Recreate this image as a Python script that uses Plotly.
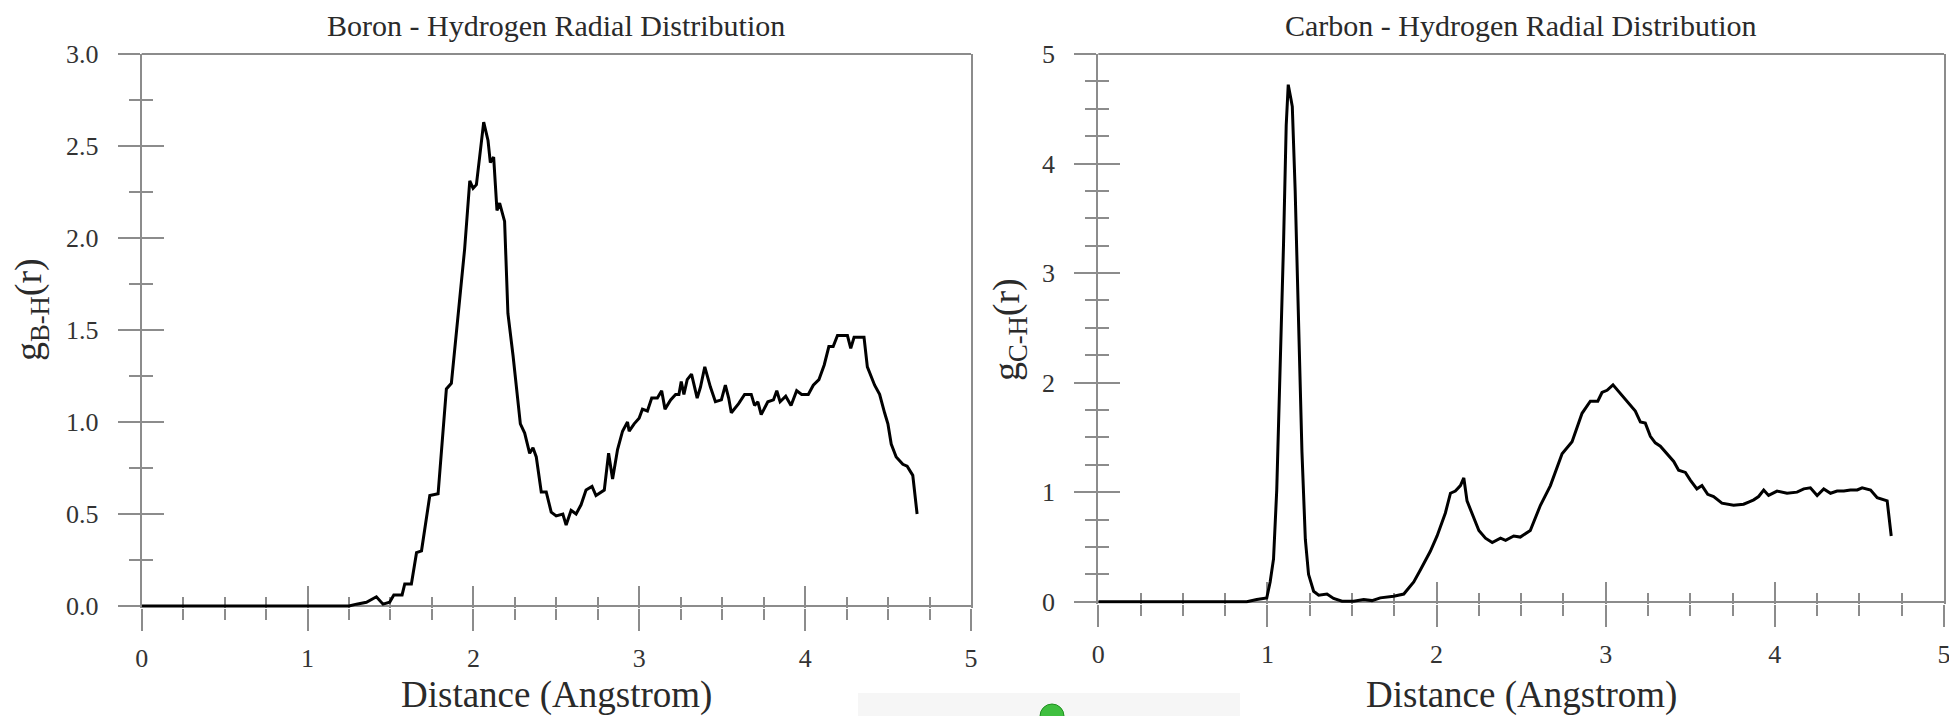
import plotly.graph_objects as go

W, H = 1949, 716

# ---------------- data ----------------
bh_r = [0.0, 1.25, 1.295, 1.355, 1.415, 1.455, 1.495, 1.52, 1.57, 1.586, 1.626, 1.657, 1.687,
        1.737, 1.787, 1.837, 1.867, 1.907, 1.917, 1.947, 1.978, 1.998, 2.018, 2.062, 2.088,
        2.102, 2.122, 2.142, 2.158, 2.188, 2.208, 2.239, 2.283, 2.309, 2.339, 2.359, 2.379,
        2.409, 2.439, 2.469, 2.499, 2.539, 2.559, 2.589, 2.619, 2.649, 2.679, 2.715, 2.739,
        2.769, 2.789, 2.815, 2.839, 2.869, 2.899, 2.929, 2.939, 2.969, 2.999, 3.019, 3.049,
        3.075, 3.109, 3.135, 3.155, 3.189, 3.219, 3.239, 3.253, 3.269, 3.289, 3.315, 3.349,
        3.369, 3.395, 3.429, 3.459, 3.495, 3.519, 3.539, 3.555, 3.599, 3.635, 3.675, 3.695,
        3.715, 3.735, 3.775, 3.809, 3.829, 3.849, 3.883, 3.915, 3.949, 3.979, 4.019, 4.049,
        4.083, 4.115, 4.143, 4.169, 4.195, 4.229, 4.255, 4.275, 4.295, 4.355, 4.375, 4.419,
        4.449, 4.479, 4.499, 4.519, 4.549, 4.589, 4.615, 4.649, 4.675]
bh_g = [0.0, 0.0, 0.01, 0.02, 0.05, 0.01, 0.02, 0.06, 0.06, 0.12, 0.12, 0.29, 0.30,
        0.60, 0.61, 1.18, 1.21, 1.59, 1.65, 1.94, 2.31, 2.27, 2.29, 2.63, 2.53,
        2.41, 2.44, 2.15, 2.19, 2.09, 1.59, 1.36, 0.99, 0.94, 0.83, 0.86, 0.81,
        0.62, 0.62, 0.51, 0.49, 0.50, 0.44, 0.52, 0.50, 0.55, 0.63, 0.65, 0.60,
        0.62, 0.63, 0.83, 0.69, 0.85, 0.95, 1.00, 0.95, 0.99, 1.02, 1.07, 1.06,
        1.13, 1.13, 1.17, 1.07, 1.12, 1.15, 1.15, 1.22, 1.15, 1.23, 1.26, 1.13,
        1.19, 1.30, 1.19, 1.11, 1.12, 1.20, 1.13, 1.05, 1.10, 1.15, 1.15, 1.09,
        1.11, 1.04, 1.11, 1.12, 1.17, 1.11, 1.14, 1.09, 1.17, 1.15, 1.15, 1.20,
        1.23, 1.31, 1.41, 1.41, 1.47, 1.47, 1.47, 1.40, 1.46, 1.46, 1.30, 1.20,
        1.15, 1.05, 0.99, 0.88, 0.81, 0.77, 0.76, 0.71, 0.50]

ch_r = [0.0, 0.878, 0.937, 0.996, 1.016, 1.036, 1.055, 1.075, 1.095, 1.111, 1.123, 1.139,
        1.147, 1.164, 1.184, 1.204, 1.224, 1.243, 1.273, 1.303, 1.352, 1.391, 1.441, 1.510,
        1.569, 1.618, 1.667, 1.746, 1.806, 1.865, 1.904, 1.963, 2.003, 2.052, 2.082, 2.111,
        2.141, 2.161, 2.180, 2.210, 2.250, 2.289, 2.329, 2.378, 2.408, 2.456, 2.495, 2.554,
        2.614, 2.673, 2.742, 2.801, 2.860, 2.909, 2.953, 2.978, 3.008, 3.043, 3.087, 3.136,
        3.175, 3.205, 3.234, 3.264, 3.293, 3.323, 3.362, 3.402, 3.431, 3.471, 3.500, 3.539,
        3.569, 3.603, 3.638, 3.687, 3.756, 3.815, 3.845, 3.875, 3.904, 3.934, 3.963, 4.013,
        4.072, 4.131, 4.171, 4.210, 4.250, 4.289, 4.329, 4.368, 4.408, 4.447, 4.487, 4.516,
        4.566, 4.605, 4.664, 4.688]
ch_g = [0.0, 0.0, 0.02, 0.035, 0.18, 0.39, 1.02, 2.07, 3.26, 4.35, 4.72, 4.59,
        4.52, 3.75, 2.56, 1.37, 0.57, 0.25, 0.095, 0.06, 0.07, 0.03, 0.005, 0.005,
        0.02, 0.01, 0.035, 0.05, 0.07, 0.18, 0.29, 0.46, 0.60, 0.81, 0.99, 1.01,
        1.06, 1.13, 0.92, 0.81, 0.65, 0.58, 0.54, 0.58, 0.56, 0.60, 0.59, 0.65,
        0.88, 1.06, 1.35, 1.46, 1.72, 1.83, 1.83, 1.91, 1.93, 1.98, 1.90, 1.81,
        1.74, 1.64, 1.63, 1.51, 1.45, 1.42, 1.35, 1.28, 1.20, 1.18, 1.11, 1.03,
        1.06, 0.98, 0.96, 0.90, 0.88, 0.89, 0.91, 0.93, 0.96, 1.02, 0.97, 1.01,
        0.99, 1.00, 1.03, 1.04, 0.97, 1.03, 0.99, 1.01, 1.01, 1.02, 1.02, 1.04,
        1.02, 0.95, 0.92, 0.60]

titles = ["Boron - Hydrogen Radial Distribution", "Carbon - Hydrogen Radial Distribution"]
y_titles = ["g<sub>B-H</sub>(r)", "g<sub>C-H</sub>(r)"]
x_title = "Distance (Angstrom)"
x_range = [0, 5]
y1_max, y1_dtick, y1_fmt = 3.0, 0.5, ".1f"
y2_max, y2_dtick, y2_fmt = 5.0, 1, "d"

# ---------------- style ----------------
FONT = "Liberation Serif, Times New Roman, serif"
AX = "#8c8c8c"
TXT = "#2a2a2a"
TICKFONT = dict(family=FONT, size=26, color="#333333")

def px_x(p):
    return p / W

def px_y(p):
    return 1 - p / H

dom_x1 = [px_x(141.7), px_x(971.0)]
dom_x2 = [px_x(1098.3), px_x(1944.0)]
# y=0 sits at 606 / 601.7 px; plot bottom 2 px lower so the curve is not clipped
eps1 = 2.0 / 184.0
eps2 = 2.0 / 109.5
dom_y1 = [px_y(608.0), px_y(54.0)]
dom_y2 = [px_y(603.7), px_y(54.0)]

fig = go.Figure()

def add_curve(x, y, xa, ya, xo, yo):
    # invisible copy on the base axes, visible curve on the overlay axes (drawn on top)
    fig.add_trace(go.Scatter(x=x, y=y, mode="lines", xaxis=xa, yaxis=ya,
                             line=dict(color="black", width=1), opacity=0,
                             hoverinfo="skip", showlegend=False))
    fig.add_trace(go.Scatter(x=x, y=y, mode="lines", xaxis=xo, yaxis=yo,
                             line=dict(color="black", width=3),
                             hoverinfo="skip", showlegend=False))

add_curve(bh_r, bh_g, "x", "y", "x3", "y3")
add_curve(ch_r, ch_g, "x2", "y2", "x4", "y4")

def xax(domain, anchor, side_ticks, labels, overlay=None):
    d = dict(range=x_range, anchor=anchor, tickmode="linear", tick0=0, dtick=1,
             ticks=side_ticks, ticklen=22, tickwidth=2, tickcolor=AX,
             minor=dict(ticks=side_ticks, ticklen=11, tickwidth=2, tickcolor=AX,
                        tickmode="linear", tick0=0, dtick=0.25, showgrid=False),
             showgrid=False, zeroline=False, showline=False, automargin=False,
             showticklabels=labels, tickfont=TICKFONT, ticklabelstandoff=5,
             ticklabeloverflow="allow", layer="below traces", fixedrange=True)
    if overlay:
        d["overlaying"] = overlay
    else:
        d["domain"] = domain
    return d

def yax(domain, anchor, side_ticks, labels, rng, dtick, fmt, overlay=None):
    d = dict(range=rng, anchor=anchor, tickmode="linear", tick0=0, dtick=dtick,
             tickformat=fmt,
             ticks=side_ticks, ticklen=22, tickwidth=2, tickcolor=AX,
             minor=dict(ticks=side_ticks, ticklen=11, tickwidth=2, tickcolor=AX,
                        tickmode="linear", tick0=0, dtick=0.25, showgrid=False),
             showgrid=False, showticklabels=labels, tickfont=TICKFONT,
             automargin=False, ticklabelstandoff=14, layer="below traces",
             fixedrange=True)
    if overlay:
        d["overlaying"] = overlay
        d.update(zeroline=False, showline=False)
    else:
        d["domain"] = domain
        d.update(zeroline=True, zerolinecolor=AX, zerolinewidth=2,
                 showline=True, mirror=True, linecolor=AX, linewidth=2)
    return d

fig.update_layout(
    width=W, height=H,
    margin=dict(l=0, r=0, t=0, b=0, pad=0, autoexpand=False),
    paper_bgcolor="white", plot_bgcolor="white",
    showlegend=False,
    xaxis=xax(dom_x1, "y", "outside", True),
    yaxis=yax(dom_y1, "x", "outside", True, [-eps1, y1_max], y1_dtick, y1_fmt),
    xaxis2=xax(dom_x2, "y2", "outside", True),
    yaxis2=yax(dom_y2, "x2", "outside", True, [-eps2, y2_max], y2_dtick, y2_fmt),
    xaxis3=xax(None, "y3", "inside", False, overlay="x"),
    yaxis3=yax(None, "x3", "inside", False, [-eps1, y1_max], y1_dtick, y1_fmt, overlay="y"),
    xaxis4=xax(None, "y4", "inside", False, overlay="x2"),
    yaxis4=yax(None, "x4", "inside", False, [-eps2, y2_max], y2_dtick, y2_fmt, overlay="y2"),
)

shapes = []
for xr, yr in (("x domain", "y domain"), ("x2 domain", "y2 domain")):
    shapes.append(dict(type="line", xref=xr, yref=yr, x0=0, x1=1, y0=1, y1=1,
                       line=dict(color=AX, width=2), layer="below"))
# faint screen-capture artefacts at the bottom of the reference
shapes.append(dict(type="rect", xref="paper", yref="paper",
                   x0=px_x(858), x1=px_x(1240), y0=0, y1=px_y(693),
                   fillcolor="#f6f6f6", line=dict(width=0), layer="below"))
shapes.append(dict(type="circle", xref="paper", yref="paper",
                   x0=px_x(1040), x1=px_x(1064), y0=px_y(728), y1=px_y(704),
                   fillcolor="#3fbf3f", line=dict(color="#1f8f1f", width=1)))
fig.update_layout(shapes=shapes)

ann = []
for xr, t in (("x domain", titles[0]), ("x2 domain", titles[1])):
    ann.append(dict(text=t, xref=xr, x=0.5, yref="paper", y=px_y(26),
                    xanchor="center", yanchor="middle", showarrow=False,
                    font=dict(family=FONT, size=30, color=TXT)))
    ann.append(dict(text=x_title, xref=xr, x=0.5, yref="paper", y=px_y(695),
                    xanchor="center", yanchor="middle", showarrow=False,
                    font=dict(family=FONT, size=37, color=TXT)))
ann.append(dict(text=y_titles[0], xref="paper", x=px_x(31), yref="paper", y=px_y(310),
                xanchor="center", yanchor="middle", showarrow=False, textangle=-90,
                font=dict(family=FONT, size=38, color=TXT)))
ann.append(dict(text=y_titles[1], xref="paper", x=px_x(1009), yref="paper", y=px_y(330),
                xanchor="center", yanchor="middle", showarrow=False, textangle=-90,
                font=dict(family=FONT, size=38, color=TXT)))
fig.update_layout(annotations=ann)

fig.write_html("out.html")
